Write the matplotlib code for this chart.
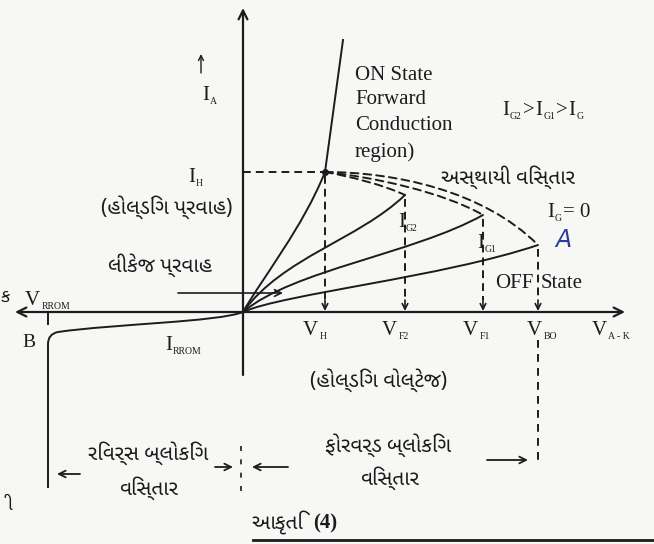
import matplotlib
matplotlib.use("Agg")
import matplotlib.pyplot as plt
from matplotlib import font_manager as fm
from matplotlib.ft2font import FT2Font
from matplotlib.path import Path
from matplotlib.patches import PathPatch
from matplotlib.textpath import TextPath

# SCR V-I characteristic (schematic units, origin at the axes crossing)
v_names = ["H", "F2", "F1", "BO"]          # V_H, V_F2, V_F1, V_BO
v_switch = [82, 162, 240, 295]             # switching / holding voltages
i_switch = [140, 117, 97, 67]              # I_H and the peak of each gate curve
gate_names = ["G2", "G1", "G"]             # I_G2 > I_G1 > I_G (= 0)

# forward curves from the origin, cubic control points (P1, P2)
fwd_ctrl = [
    [(20, 35), (60, 85)],      # up to the holding point
    [(40, 55), (115, 72)],     # I_G2
    [(50, 42), (170, 58)],     # I_G1
    [(40, 18), (200, 35)],     # I_G = 0
]
# unstable (negative resistance) region, from I_H to each break-over point
unstable_ctrl = [
    [(110, 135), (140, 127)],
    [(130, 135), (200, 120)],
    [(150, 140), (240, 122)],
]
on_state_top = (100, 272)
v_rrom = -195

INK = "#1c1c1c"
SERIF = "Liberation Serif"
DASH = (0, (4, 2.6))


def find_gujarati_font():
    names = sorted({f.name for f in fm.fontManager.ttflist if "Gujarati" in f.name})
    for pref in ("Noto Sans Gujarati", "Noto Sans Gujarati UI", "Lohit Gujarati"):
        if pref in names:
            return pref
    if names:
        return names[0]
    for f in fm.fontManager.ttflist:
        try:
            if 0x0AB5 in FT2Font(f.fname).get_charmap():
                return f.name
        except Exception:
            continue
    return "DejaVu Sans"


GUJ = [find_gujarati_font(), "DejaVu Sans"]

fig = plt.figure(figsize=(6.54, 5.44), dpi=100, facecolor="#f7f7f5")
ax = fig.add_axes([0, 0, 1, 1])
ax.set_xlim(-243, 411)
ax.set_ylim(-232, 312)
ax.axis("off")


def curve(p0, ctrl, p3, **kw):
    path = Path([p0, ctrl[0], ctrl[1], p3],
                [Path.MOVETO, Path.CURVE4, Path.CURVE4, Path.CURVE4])
    ax.add_patch(PathPatch(path, fill=False, capstyle="round", **kw))


def arrow(start, end, lw=1.4, scale=14, style="->"):
    ax.annotate("", xy=end, xytext=start,
                arrowprops=dict(arrowstyle=style, color=INK, lw=lw,
                                mutation_scale=scale, shrinkA=0, shrinkB=0))


def rich_label(x, y, parts, size=15):
    """Main letters with small, low subscripts, e.g. [('V', 0), ('H', 1)]."""
    dx = 0.0
    for s, is_sub in parts:
        fs = 7 if is_sub else size
        dy = -3 if is_sub else 0
        ax.annotate(s, (x, y), xytext=(dx, dy), textcoords="offset points",
                    ha="left", va="baseline", fontsize=fs, family=SERIF, color=INK)
        w = TextPath((0, 0), s, size=fs, prop=fm.FontProperties(family=SERIF)).get_extents().x1
        dx += w + 1.2


def guj(x, y, s, size=15, ha="center"):
    ax.text(x, y, s, ha=ha, va="center", fontsize=size, family=GUJ, color=INK)


# axes
arrow((382, 0), (-228, 0), lw=1.6, scale=16, style="<->")
arrow((0, -63), (0, 304), lw=1.6, scale=16)
ax.plot([v_rrom, v_rrom], [-2, -12], color=INK, lw=1.4)

# forward characteristics
ends = [(v_switch[k], i_switch[k]) for k in range(4)]
for ctrl, end in zip(fwd_ctrl, ends):
    curve((0, 0), ctrl, end, color=INK, lw=1.4)
ax.plot([v_switch[0], on_state_top[0]], [i_switch[0], on_state_top[1]], color=INK, lw=1.4)
ax.plot(v_switch[0], i_switch[0], "o", color=INK, ms=4)

# unstable region
for ctrl, end in zip(unstable_ctrl, ends[1:]):
    curve(ends[0], ctrl, end, color=INK, lw=1.4, linestyle=DASH)

# reverse characteristic
rev = Path([(0, 0), (-25, -10), (-130, -12), (-185, -20),
            (v_rrom, -22), (v_rrom, -32), (v_rrom, -176)],
           [Path.MOVETO, Path.CURVE4, Path.CURVE4, Path.CURVE4,
            Path.CURVE3, Path.CURVE3, Path.LINETO])
ax.add_patch(PathPatch(rev, fill=False, color=INK, lw=1.4))

# projections to the voltage axis
ax.plot([0, v_switch[0]], [i_switch[0], i_switch[0]], color=INK, lw=1.4, linestyle=DASH)
for v, i in zip(v_switch, i_switch):
    ax.plot([v, v], [i - 4, 12], color=INK, lw=1.4, linestyle=DASH)
    arrow((v, 12), (v, 1), lw=1.2, scale=10)
ax.plot([v_switch[-1], v_switch[-1]], [-28, -150], color=INK, lw=1.4, linestyle=(0, (4, 3.2)))
ax.plot([-2, -2], [-134, -186], color=INK, lw=1.2, linestyle=(0, (3, 5)))

# leakage current pointer
arrow((-65, 19), (40, 19), lw=1.2, scale=12)

# region arrows
arrow((-163, -162), (-186, -162), lw=1.3, scale=12)
arrow((-28, -155), (-10, -155), lw=1.3, scale=12)
arrow((45, -155), (9, -155), lw=1.3, scale=12)
arrow((244, -148), (285, -148), lw=1.3, scale=12)
arrow((-42, 239), (-42, 258), lw=1.0, scale=9)

# bottom rule
ax.plot([10, 411], [-228, -228], color=INK, lw=2.0)

# latin labels
for k, t in enumerate(["ON State", "Forward", "Conduction", "region)"]):
    ax.text(112, [237, 212, 186, 160][k], t, ha="left", va="center",
            fontsize=15, family=SERIF, color=INK)
for name, x in zip(v_names + ["A - K"], [60, 139, 220, 284, 349]):
    rich_label(x, -23, [("V", 0), (name, 1)])
rich_label(-218, 7, [("V", 0), ("RROM", 1)])
rich_label(-78, -38, [("I", 0), ("RROM", 1)])
rich_label(-55, 130, [("I", 0), ("H", 1)])
rich_label(-41, 212, [("I", 0), ("A", 1)])
rich_label(155, 85, [("I", 0), (gate_names[0], 1)])
rich_label(234, 64, [("I", 0), (gate_names[1], 1)])
rich_label(304, 95, [("I", 0), (gate_names[2], 1), ("= 0", 0)])
rich_label(259, 197, [("I", 0), ("G2", 1), (">", 0), ("I", 0), ("G1", 1), (">", 0), ("I", 0), ("G", 1)])
ax.text(-221, -35, "B", ha="left", va="baseline", fontsize=14, family=SERIF, color=INK)
ax.text(252, 29, "OFF", ha="left", va="center", fontsize=15, family=SERIF, color=INK)
ax.text(298, 29, "State", ha="left", va="center", fontsize=15, family=SERIF, color=INK)
ax.text(320, 72, "A", ha="center", va="center", fontsize=17, family="DejaVu Sans",
        style="italic", color="#2b3a9c")

# gujarati labels
guj(-76, 105, "(હોલ્ડિંગ પ્રવાહ)")
guj(-83, 47, "લીકેજ પ્રવાહ")
guj(265, 135, "અસ્થાયી વિસ્તાર")
guj(136, -68, "(હોલ્ડિંગ વોલ્ટેજ)")
guj(-95, -141, "રિવર્સ બ્લોકિંગ")
guj(-94, -176, "વિસ્તાર")
guj(145, -133, "ફોરવર્ડ બ્લોકિંગ")
guj(147, -166, "વિસ્તાર")
guj(60, -211, "આકૃતિ", ha="right")
ax.text(70, -211, "(4)", ha="left", va="center", fontsize=15, family=SERIF,
        weight="bold", color=INK)
guj(-242, 15, "ક", size=13, ha="left")
guj(-236, -193, "ી", size=13, ha="left")

fig.savefig("out.png", dpi=100, facecolor=fig.get_facecolor())
